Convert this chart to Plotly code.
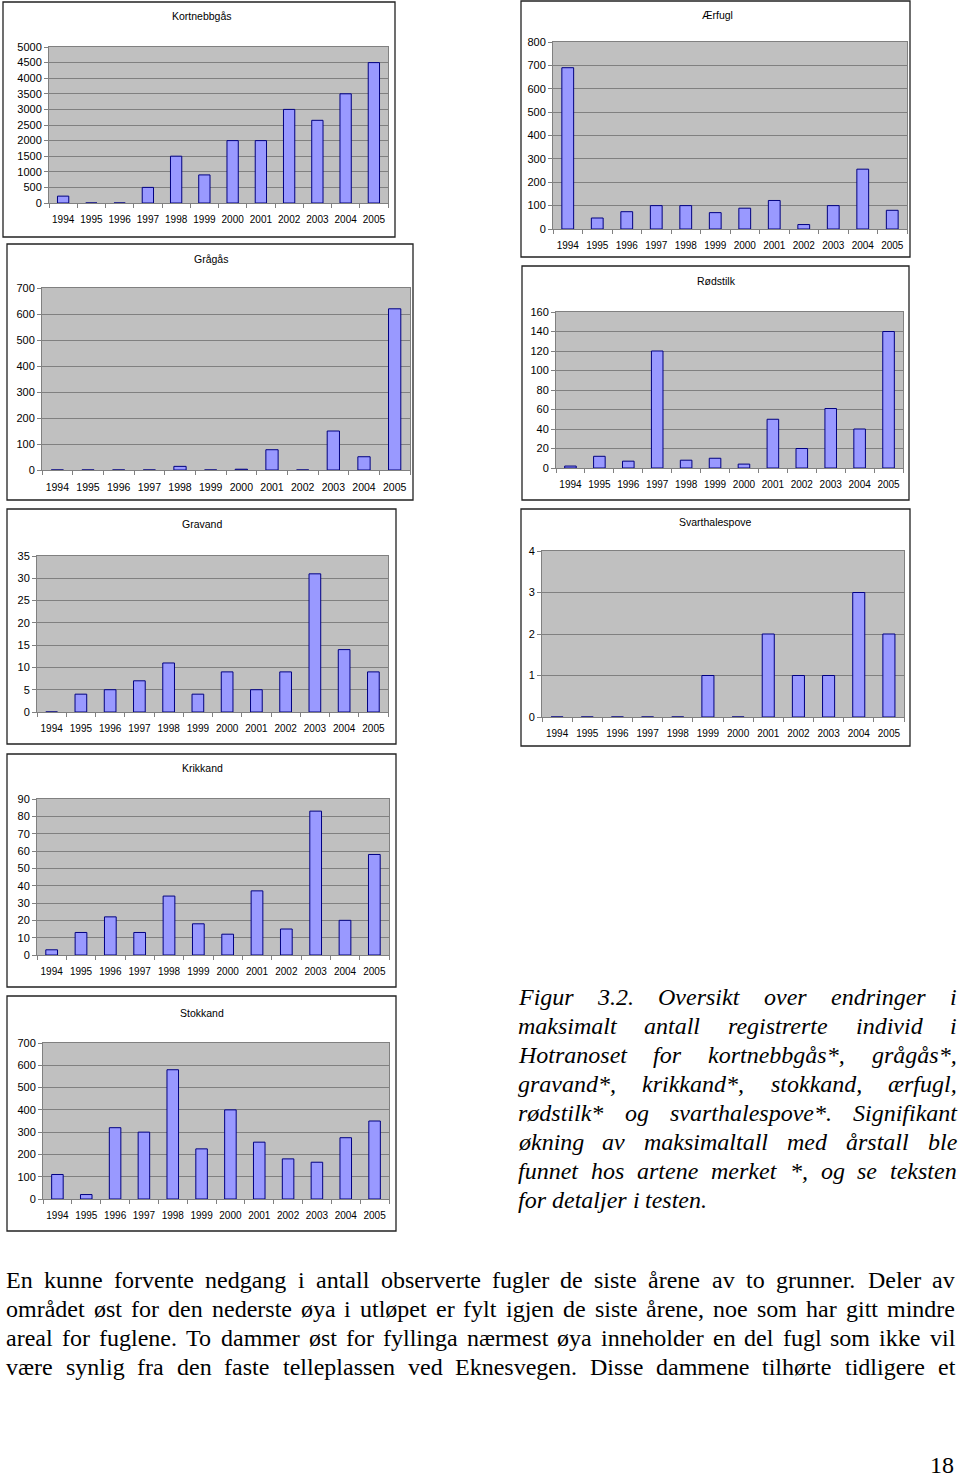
import plotly.graph_objects as go

W, H = 960, 1480

years = ["1994", "1995", "1996", "1997", "1998", "1999",
         "2000", "2001", "2002", "2003", "2004", "2005"]

kortnebbgas = [220, 0, 0, 500, 1500, 900, 2000, 2000, 3000, 2650, 3500, 4500]
aerfugl = [690, 47, 74, 100, 100, 70, 89, 122, 19, 100, 256, 80]
gragas = [0, 0, 0, 0, 14, 0, 3, 78, 0, 150, 51, 620]
rodstilk = [2, 12, 7, 120, 8, 10, 4, 50, 20, 61, 40, 140]
gravand = [0, 4, 5, 7, 11, 4, 9, 5, 9, 31, 14, 9]
svarthalespove = [0, 0, 0, 0, 0, 1, 0, 2, 1, 1, 3, 2]
krikkand = [3, 13, 22, 13, 34, 18, 12, 37, 15, 83, 20, 58]
stokkand = [110, 20, 320, 300, 580, 225, 400, 255, 180, 165, 275, 350]

titles = ["Kortnebbgås", "Ærfugl", "Grågås", "Rødstilk",
          "Gravand", "Svarthalespove", "Krikkand", "Stokkand"]
series = [kortnebbgas, aerfugl, gragas, rodstilk,
          gravand, svarthalespove, krikkand, stokkand]
y_max = [5000, 800, 700, 160, 35, 4, 90, 700]
y_step = [500, 100, 100, 20, 5, 1, 10, 100]

caption_lines = [
    "Figur 3.2. Oversikt over endringer i",
    "maksimalt antall registrerte individ i",
    "Hotranoset for kortnebbgås*, grågås*,",
    "gravand*, krikkand*, stokkand, ærfugl,",
    "rødstilk* og svarthalespove*. Signifikant",
    "økning av maksimaltall med årstall ble",
    "funnet hos artene merket *, og se teksten",
    "for detaljer i testen.",
]
body_lines = [
    "En kunne forvente nedgang i antall observerte fugler de siste årene av to grunner. Deler av",
    "området øst for den nederste øya i utløpet er fylt igjen de siste årene, noe som har gitt mindre",
    "areal for fuglene. To dammer øst for fyllinga nærmest øya inneholder en del fugl som ikke vil",
    "være synlig fra den faste telleplassen ved Eknesvegen. Disse dammene tilhørte tidligere et",
]
page_number = "18"

# ---- layout geometry (pixels) ----
plot_px = [
    (49, 388, 47, 203), (553, 907, 42, 229),
    (42, 410, 288, 470), (556, 903, 312, 468),
    (37, 388, 556, 712), (542, 904, 551, 717),
    (37, 389, 799, 955), (43, 389, 1043, 1199),
]
box_px = [
    (3, 395, 2, 237), (521, 910, 1, 257),
    (7, 413, 244, 500), (522, 909, 266, 500),
    (7, 396, 509, 744), (521, 910, 509, 746),
    (7, 396, 754, 987), (7, 396, 996, 1231),
]
title_px = [(202, 16), (717, 15), (211, 259), (716, 281),
            (202, 524), (715, 522), (202, 768), (202, 1013)]
xfont = [10, 10, 10.5, 10, 10, 10, 10, 10]

SANS = "Arial, Liberation Sans, sans-serif"
SERIF = "Liberation Serif, Times New Roman, serif"


def px_x(x):
    return x / W


def px_y(y):
    return 1 - y / H


fig = go.Figure()
layout = {}
shapes = []
annotations = []

for i in range(8):
    n = "" if i == 0 else str(i + 1)
    x0, x1, yt, yb = plot_px[i]
    fig.add_trace(go.Bar(
        x=years, y=series[i], xaxis="x" + n, yaxis="y" + n,
        marker=dict(color="#9999FF", line=dict(color="#000080", width=1)),
        showlegend=False, hoverinfo="x+y",
    ))
    layout["xaxis" + n] = dict(
        domain=[px_x(x0), px_x(x1)], anchor="y" + n, type="category",
        showline=True, linecolor="#808080", linewidth=1, mirror=True,
        ticks="outside", tickson="boundaries", ticklen=4, tickcolor="#808080",
        showgrid=False, tickangle=0, ticklabelstandoff=7, automargin=False,
        tickfont=dict(family=SANS, size=xfont[i], color="#000000"),
        fixedrange=True,
    )
    layout["yaxis" + n] = dict(
        domain=[px_y(yb), px_y(yt)], anchor="x" + n,
        range=[0, y_max[i]], tick0=0, dtick=y_step[i],
        showgrid=True, gridcolor="#808080", gridwidth=1, zeroline=False,
        showline=True, linecolor="#808080", linewidth=1, mirror=True,
        ticks="outside", ticklen=4, tickcolor="#808080", automargin=False,
        tickfont=dict(family=SANS, size=11, color="#000000"),
        fixedrange=True,
    )
    bx0, bx1, by0, by1 = box_px[i]
    shapes.append(dict(type="rect", xref="paper", yref="paper",
                       x0=px_x(bx0), x1=px_x(bx1), y0=px_y(by1), y1=px_y(by0),
                       line=dict(color="#222222", width=1.3), layer="below"))
    tx, ty = title_px[i]
    annotations.append(dict(x=px_x(tx), y=px_y(ty), xref="paper", yref="paper",
                            text=titles[i], showarrow=False,
                            xanchor="center", yanchor="middle",
                            font=dict(family=SANS, size=10.5, color="#000000")))

# ---- text: Times metrics (1/1000 em) for justification ----
ROMAN = dict(zip("abcdefghijklmnopqrstuvwxyz",
                 [444, 500, 444, 500, 444, 333, 500, 500, 278, 278, 500, 278, 778,
                  500, 500, 500, 500, 333, 389, 278, 500, 500, 722, 500, 500, 444]))
ROMAN.update(dict(zip("ABCDEFGHIJKLMNOPQRSTUVWXYZ",
                      [722, 667, 667, 722, 611, 556, 722, 722, 333, 389, 722, 611, 889,
                       722, 722, 556, 722, 667, 556, 611, 722, 722, 944, 722, 722, 611])))
ROMAN.update({"å": 444, "ø": 500, "æ": 667, ".": 250, ",": 250, "*": 500})
ITALIC = dict(zip("abcdefghijklmnopqrstuvwxyz",
                  [500, 500, 444, 500, 444, 278, 500, 500, 278, 278, 444, 278, 722,
                   500, 500, 500, 500, 389, 389, 278, 500, 444, 667, 444, 444, 389]))
ITALIC.update(dict(zip("ABCDEFGHIJKLMNOPQRSTUVWXYZ",
                       [611, 611, 667, 722, 611, 611, 722, 722, 333, 444, 667, 556, 833,
                        667, 722, 611, 722, 611, 500, 556, 722, 611, 833, 611, 556, 556])))
ITALIC.update({"å": 500, "ø": 500, "æ": 667, ".": 250, ",": 250, "*": 500})


def add_justified(lines, x0, x1, base0, step, size, table, style, last_ragged):
    for li, line in enumerate(lines):
        words = line.split()
        widths = [sum(table.get(c, 500) for c in w) * size / 1000 for w in words]
        last = last_ragged and li == len(lines) - 1
        if last or len(words) < 2:
            gap = 250 * size / 1000
        else:
            gap = (x1 - x0 - sum(widths)) / (len(words) - 1)
        x = x0
        yc = base0 + li * step - 0.32 * size
        for w, wd in zip(words, widths):
            annotations.append(dict(
                x=px_x(x), y=px_y(yc), xref="paper", yref="paper", text=w,
                showarrow=False, xanchor="left", yanchor="middle", borderpad=0,
                font=dict(family=SERIF, size=size, color="#000000", style=style)))
            x += wd + gap


add_justified(caption_lines, 517, 956, 1005, 29, 24, ITALIC, "italic", True)
add_justified(body_lines, 5, 954, 1288, 29, 24, ROMAN, "normal", False)

annotations.append(dict(x=px_x(955), y=px_y(1465), xref="paper", yref="paper",
                        text=page_number, showarrow=False, xanchor="right",
                        yanchor="middle", borderpad=0,
                        font=dict(family=SERIF, size=24, color="#000000")))

fig.update_layout(
    width=W, height=H, margin=dict(l=0, r=0, t=0, b=0, autoexpand=False),
    paper_bgcolor="#FFFFFF", plot_bgcolor="#C0C0C0",
    bargap=0.6, shapes=shapes, annotations=annotations, **layout,
)

fig.write_html(
    "out.html",
    config={"displayModeBar": False},
    post_script=(
        "var b=document.body, h=document.documentElement;"
        "h.style.margin='0';h.style.padding='0';h.style.overflow='hidden';"
        "b.style.margin='0';b.style.padding='0';b.style.overflow='hidden';"
        "var d=document.getElementById('{plot_id}');"
        "d.style.position='absolute';d.style.top='0px';d.style.left='0px';"
        "window.scrollTo(0,0);"
    ),
)
